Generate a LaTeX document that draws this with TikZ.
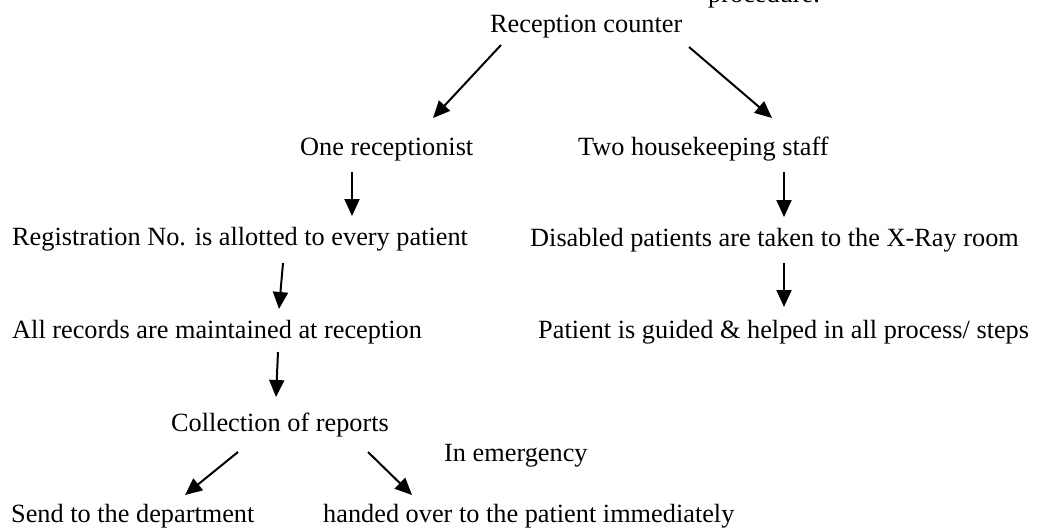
\documentclass[tikz,border=0pt]{standalone}
\usepackage{fontspec}
\setmainfont{Liberation Serif}
\usetikzlibrary{arrows.meta}
\tikzset{
  lbl/.style={anchor=base west, inner sep=0pt, font=\fontsize{26.3}{30}\selectfont},
  flow/.style={line width=2pt, -{Triangle[length=17pt,width=15pt]}}
}
\begin{document}
\begin{tikzpicture}[x=1pt,y=-1pt]
\useasboundingbox (0,0) rectangle (1038,528);
\clip (0,0) rectangle (1038,528);
\fill[white] (0,0) rectangle (1038,528);
% texts
\node[lbl] (proc) at (708,2.5) {procedure.};
\node[lbl] (rc) at (490,32) {Reception counter};
\node[lbl] (one) at (300,155) {One receptionist};
\node[lbl] (two) at (578,155) {Two housekeeping staff};
\node[lbl] (reg) at (12,245) {Registration No. is allotted to every patient};
\node[lbl] (dis) at (530,246) {Disabled patients are taken to the X-Ray room};
\node[lbl] (rec) at (12,338) {All records are maintained at reception};
\node[lbl] (pat) at (538,338) {Patient is guided \& helped in all process/ steps};
\node[lbl] (col) at (171,431) {Collection of reports};
\node[lbl] (emg) at (444,461) {In emergency};
\node[lbl] (send) at (11,522) {Send to the department};
\node[lbl] (hand) at (323,522) {handed over to the patient immediately};
% arrow end points
\coordinate (a1s) at (501,45);  \coordinate (a1e) at (433,118);
\coordinate (a2s) at (689,47);  \coordinate (a2e) at (772,118);
\coordinate (a3s) at (352,172); \coordinate (a3e) at (352,216);
\coordinate (a4s) at (784,172); \coordinate (a4e) at (784,217);
\coordinate (a5s) at (283,263); \coordinate (a5e) at (279,309);
\coordinate (a6s) at (784,263); \coordinate (a6e) at (784,307);
\coordinate (a7s) at (278,352); \coordinate (a7e) at (276,397);
\coordinate (a8s) at (238,452); \coordinate (a8e) at (185,495);
\coordinate (a9s) at (368,452); \coordinate (a9e) at (412,495);
% arrows
\draw[flow] (a1s) -- (a1e);
\draw[flow] (a2s) -- (a2e);
\draw[flow] (a3s) -- (a3e);
\draw[flow] (a4s) -- (a4e);
\draw[flow] (a5s) -- (a5e);
\draw[flow] (a6s) -- (a6e);
\draw[flow] (a7s) -- (a7e);
\draw[flow] (a8s) -- (a8e);
\draw[flow] (a9s) -- (a9e);
\end{tikzpicture}
\end{document}
